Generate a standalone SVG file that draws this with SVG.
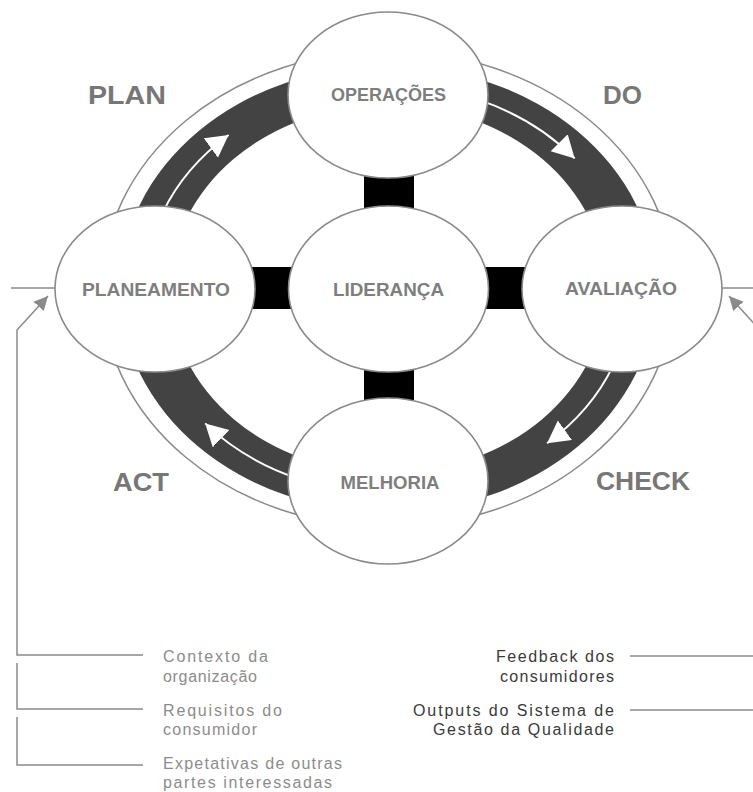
<svg xmlns="http://www.w3.org/2000/svg" width="753" height="792" viewBox="0 0 753 792">
  <defs>
    <style>
      .ring { fill: #434343; fill-rule: evenodd; }
      .outline { fill: none; stroke: #8a8a8a; stroke-width: 1.5; }
      .node { fill: #ffffff; stroke: #8a8a8a; stroke-width: 1.6; }
      .link { fill: #000000; }
      .flow { fill: none; stroke: #ffffff; stroke-width: 2; }
      .wire { fill: none; stroke: #8a8a8a; stroke-width: 1.5; }
      .label { font-family: "Liberation Sans", Arial, sans-serif; font-weight: bold; font-size: 18px; fill: #7e7e7e; text-anchor: middle; }
      .phase { font-family: "Liberation Sans", Arial, sans-serif; font-weight: bold; font-size: 26px; fill: #777777; }
      .input { font-family: "Liberation Sans", Arial, sans-serif; font-size: 16px; fill: #8c8c8c; }
      .output { font-family: "Liberation Sans", Arial, sans-serif; font-size: 16px; fill: #3a3a3a; text-anchor: end; }
    </style>
    <marker id="flowHead" markerUnits="userSpaceOnUse" markerWidth="24" markerHeight="26" refX="22" refY="12" orient="auto">
      <path d="M0,0 L22,12 L0,24 Z" fill="#ffffff"/>
    </marker>
    <marker id="wireHead" markerUnits="userSpaceOnUse" markerWidth="16" markerHeight="16" refX="14" refY="7" orient="auto">
      <path d="M0,0 L14,7 L0,14 Z" fill="#8a8a8a"/>
    </marker>
  </defs>

  <!-- PDCA cycle band and outer contour -->
  <g id="cycle">
    <path class="ring" d="M120,289 A268,223 0 1,0 656,289 A268,223 0 1,0 120,289 Z M170,289 A218,184 0 1,0 606,289 A218,184 0 1,0 170,289 Z"/>
    <ellipse class="outline" cx="388" cy="289" rx="286" ry="238"/>
  </g>

  <!-- connectors: flow arrows, links to the centre, inputs and outputs -->
  <g id="connectors">
    <path class="flow" d="M162.7,212.6 A243,204 0 0,1 228.6,135.0" marker-end="url(#flowHead)"/>
    <path class="flow" d="M479.0,99.9 A243,204 0 0,1 574.7,158.4" marker-end="url(#flowHead)"/>
    <path class="flow" d="M613.3,365.4 A243,204 0 0,1 547.1,443.2" marker-end="url(#flowHead)"/>
    <path class="flow" d="M297.0,478.2 A243,204 0 0,1 205.2,423.4" marker-end="url(#flowHead)"/>

    <rect class="link" x="364" y="165" width="50" height="50"/>
    <rect class="link" x="364" y="365" width="50" height="40"/>
    <rect class="link" x="245" y="267" width="55" height="42"/>
    <rect class="link" x="478" y="267" width="55" height="42"/>

    <line class="wire" x1="11" y1="288" x2="56" y2="288"/>
    <polyline class="wire" points="143,655 17,655 17,330 48,296" marker-end="url(#wireHead)"/>
    <polyline class="wire" points="17,663 17,709 143,709"/>
    <polyline class="wire" points="17,717 17,765 143,765"/>

    <line class="wire" x1="721" y1="288" x2="753" y2="288"/>
    <polyline class="wire" points="760,330 729,296" marker-end="url(#wireHead)"/>
    <line class="wire" x1="630" y1="656" x2="753" y2="656"/>
    <line class="wire" x1="630" y1="710" x2="753" y2="710"/>
  </g>

  <g id="operacoes">
    <ellipse class="node" cx="388" cy="95" rx="100" ry="83"/>
    <text class="label" x="388.5" y="101" textLength="115" lengthAdjust="spacingAndGlyphs">OPERAÇÕES</text>
  </g>
  <g id="planeamento">
    <ellipse class="node" cx="155" cy="289" rx="100" ry="83"/>
    <text class="label" x="156" y="295.5" textLength="148" lengthAdjust="spacingAndGlyphs">PLANEAMENTO</text>
  </g>
  <g id="lideranca">
    <ellipse class="node" cx="388.5" cy="289" rx="100" ry="83"/>
    <text class="label" x="388.5" y="296" textLength="111" lengthAdjust="spacingAndGlyphs">LIDERANÇA</text>
  </g>
  <g id="avaliacao">
    <ellipse class="node" cx="622" cy="289" rx="100" ry="83"/>
    <text class="label" x="621" y="295" textLength="112" lengthAdjust="spacingAndGlyphs">AVALIAÇÃO</text>
  </g>
  <g id="melhoria">
    <ellipse class="node" cx="388" cy="481" rx="100" ry="83"/>
    <text class="label" x="390" y="489" textLength="99" lengthAdjust="spacingAndGlyphs">MELHORIA</text>
  </g>

  <g id="phases">
    <text class="phase" x="88" y="104" textLength="78" lengthAdjust="spacingAndGlyphs">PLAN</text>
    <text class="phase" x="603" y="104" textLength="39" lengthAdjust="spacingAndGlyphs">DO</text>
    <text class="phase" x="113" y="491" textLength="56" lengthAdjust="spacingAndGlyphs">ACT</text>
    <text class="phase" x="596" y="490" textLength="94" lengthAdjust="spacingAndGlyphs">CHECK</text>
  </g>

  <g id="inputs">
    <text class="input" x="163" y="662" textLength="105" lengthAdjust="spacing">Contexto da</text>
    <text class="input" x="163" y="681.5" textLength="94" lengthAdjust="spacing">organização</text>
    <text class="input" x="163" y="715.5" textLength="119" lengthAdjust="spacing">Requisitos do</text>
    <text class="input" x="163" y="735" textLength="94" lengthAdjust="spacing">consumidor</text>
    <text class="input" x="163" y="769" textLength="179" lengthAdjust="spacing">Expetativas de outras</text>
    <text class="input" x="163" y="788" textLength="169" lengthAdjust="spacing">partes interessadas</text>
  </g>

  <g id="outputs">
    <text class="output" x="614" y="662" textLength="118" lengthAdjust="spacing">Feedback dos</text>
    <text class="output" x="614" y="681.5" textLength="114" lengthAdjust="spacing">consumidores</text>
    <text class="output" x="614" y="715.5" textLength="201" lengthAdjust="spacing">Outputs do Sistema de</text>
    <text class="output" x="614" y="735" textLength="181" lengthAdjust="spacing">Gestão da Qualidade</text>
  </g>
</svg>
